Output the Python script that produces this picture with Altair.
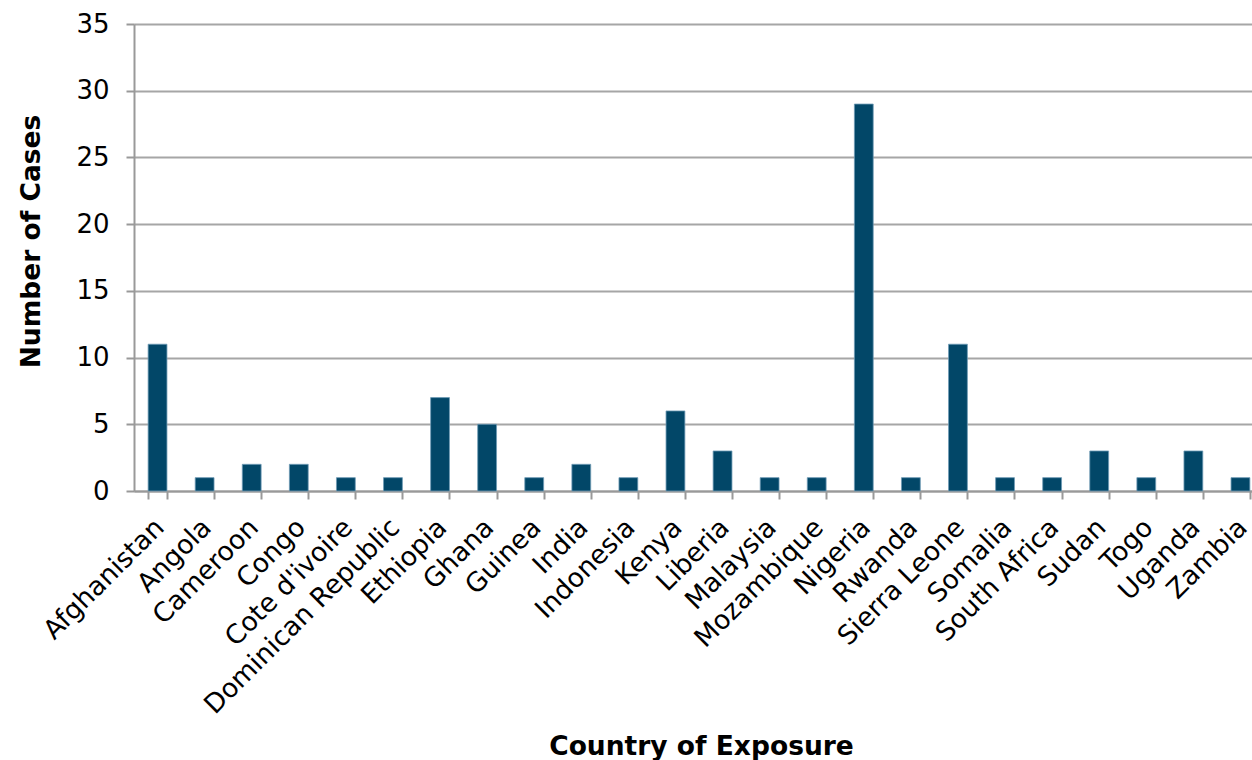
import altair as alt
import pandas as pd

countries = ["Afghanistan", "Angola", "Cameroon", "Congo", "Cote d'ivoire",
             "Dominican Republic", "Ethiopia", "Ghana", "Guinea", "India",
             "Indonesia", "Kenya", "Liberia", "Malaysia", "Mozambique",
             "Nigeria", "Rwanda", "Sierra Leone", "Somalia", "South Africa",
             "Sudan", "Togo", "Uganda", "Zambia"]
cases = [11, 1, 2, 2, 1, 1, 7, 5, 1, 2, 1, 6, 3, 1, 1, 29, 1, 11, 1, 1, 3, 1, 3, 1]

df = pd.DataFrame({"country": countries, "cases": cases})

FONT = "DejaVu Sans"

chart = alt.Chart(df).mark_bar(
    color="#024768", stroke="#6f9bb5", strokeWidth=0.8
).encode(
    x=alt.X("country:N", sort=countries,
            scale=alt.Scale(range=[0, 1130], paddingInner=0.6, paddingOuter=0.3),
            axis=alt.Axis(title="Country of Exposure", labelAngle=-45,
                          labelFontSize=26.5, labelFont=FONT, labelColor="#000000",
                          labelAlign="right", labelBaseline="middle",
                          labelPadding=24, labelOffset=2, labelLimit=0,
                          tickBand="extent", tickSize=8, tickColor="#999999",
                          tickWidth=2, domainColor="#999999", domainWidth=2,
                          titleFontSize=26.5, titleFont=FONT, titleFontWeight="bold",
                          titleColor="#000000", titleX=567, titleY=242,
                          titleAnchor="middle", titleAlign="center")),
    y=alt.Y("cases:Q", scale=alt.Scale(domain=[0, 35]),
            axis=alt.Axis(title="Number of Cases", values=[0, 5, 10, 15, 20, 25, 30, 35],
                          labelFontSize=26, labelFont=FONT, labelColor="#000000",
                          labelPadding=17, tickSize=8, tickColor="#999999", tickWidth=2,
                          domainColor="#999999", domainWidth=2,
                          gridColor="#a6a6a6", gridWidth=1.8,
                          titleFontSize=26.5, titleFont=FONT, titleFontWeight="bold",
                          titleColor="#000000", titleX=-89, titleY=217,
                          titleAnchor="middle", titleAlign="center")),
).properties(
    width=1118, height=467,
    autosize=alt.AutoSizeParams(type="none"),
    padding={"left": 134, "top": 24, "right": 0, "bottom": 269},
).configure_view(
    fill="#f2f2f2", stroke=None
).configure(background="#ffffff")

chart.save("out.html", embed_options={"renderer": "svg", "actions": False})
